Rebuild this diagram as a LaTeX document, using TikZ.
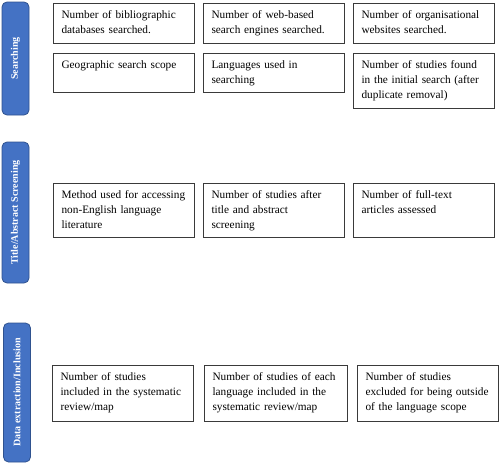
\documentclass[tikz,border=0pt]{standalone}
\usepackage{fontspec}
\setmainfont{Liberation Serif}
\usetikzlibrary{shapes}

\definecolor{stageblue}{HTML}{4472C4}
\definecolor{stageline}{HTML}{2F528F}
\definecolor{boxline}{HTML}{3A3A3A}

\begin{document}
\begin{tikzpicture}[x=1pt, y=-1pt,
    stage/.style={rectangle, rounded corners=5pt, draw=stageline, line width=0.8pt, fill=stageblue, text=white, font=\fontsize{10}{12}\selectfont\bfseries, rotate=90, minimum height=27pt, inner sep=0pt},
    item/.style={rectangle, draw=boxline, line width=1.1pt, anchor=north west, align=left, inner xsep=8pt, inner ysep=0pt, text width=125pt, text height=15pt, font=\fontsize{11.3}{15}\selectfont}]
    \useasboundingbox (0, 0) rectangle (500, 463);

    % stages on the left
    \node[stage, minimum width=113pt] (searching) at (15.5, 58.5) {Searching};
    \node[stage, minimum width=141pt] (screening) at (15.5, 212.5) {Title/Abstract Screening};
    \node[stage, minimum width=139pt] (inclusion) at (17, 392.5) {Data extraction/Inclusion};

    % searching
    \node[item, text depth=25pt] (databases) at (53, 3) {Number of bibliographic\\databases searched.};
    \node[item, text depth=25pt] (engines) at (203, 3) {Number of web-based\\search engines searched.};
    \node[item, text depth=25pt] (websites) at (353, 3) {Number of organisational\\websites searched.};
    \node[item, text depth=24pt] (scope) at (53, 53) {Geographic search scope};
    \node[item, text depth=24pt] (languages) at (203, 53) {Languages used in\\searching};
    \node[item, text depth=40pt] (found) at (353, 53) {Number of studies found\\in the initial search (after\\duplicate removal)};

    % screening
    \node[item, text depth=39pt] (access) at (53, 183) {Method used for accessing\\non-English language\\literature};
    \node[item, text depth=39pt] (afterscreen) at (203, 183) {Number of studies after\\title and abstract\\screening};
    \node[item, text depth=39pt] (fulltext) at (353, 183) {Number of full-text\\articles assessed};

    % inclusion
    \node[item, text depth=41pt] (included) at (52, 365) {Number of studies\\included in the systematic\\review/map};
    \node[item, text depth=41pt, text width=127pt] (eachlang) at (204, 365) {Number of studies of each\\language included in the\\systematic review/map};
    \node[item, text depth=41pt] (excluded) at (357, 365) {Number of studies\\excluded for being outside\\of the language scope};

\end{tikzpicture}
\end{document}
